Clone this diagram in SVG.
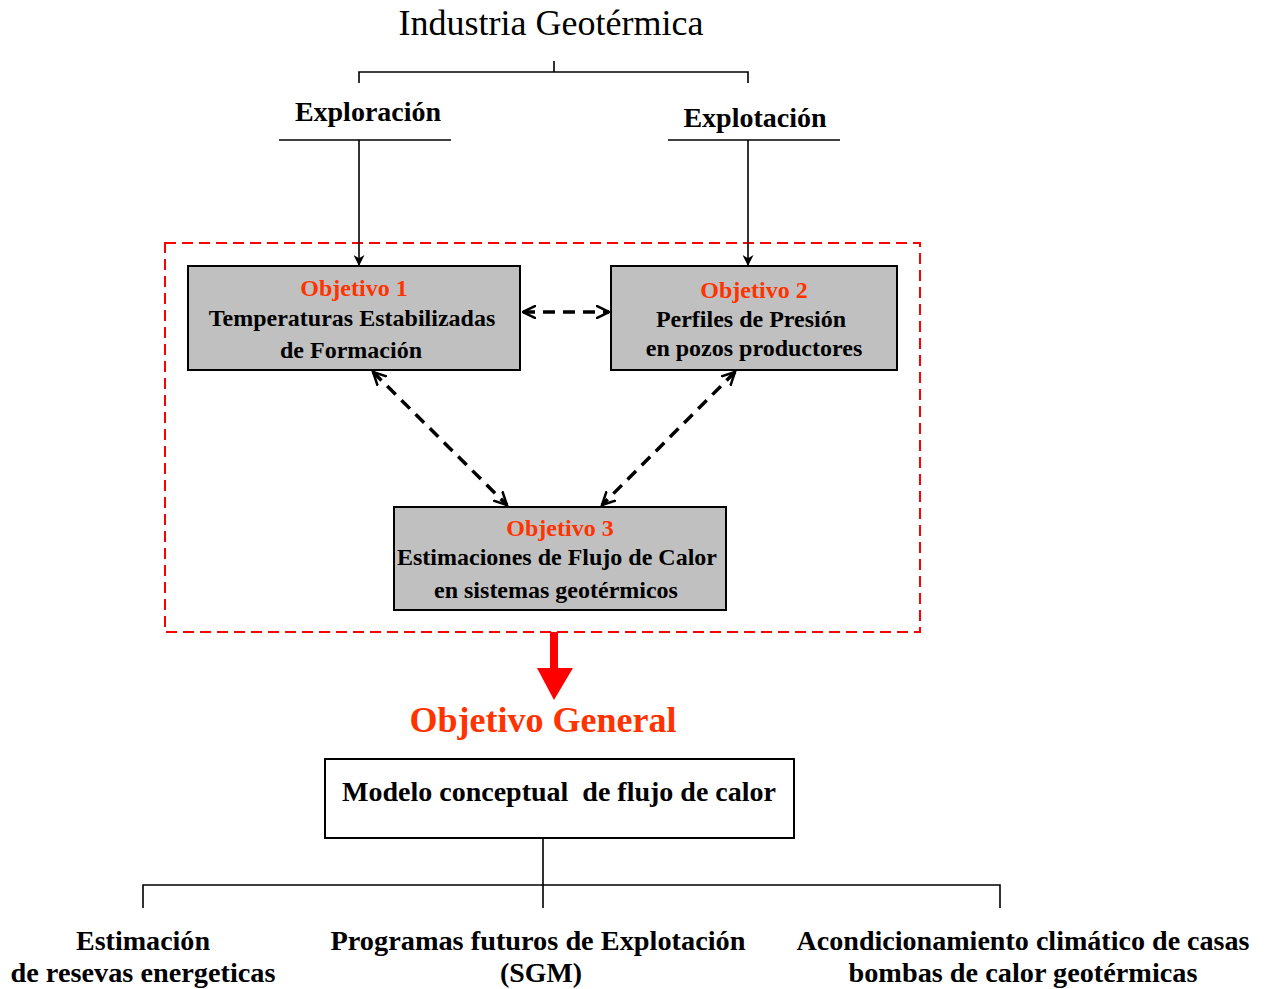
<svg xmlns="http://www.w3.org/2000/svg" width="1267" height="989" viewBox="0 0 1267 989">
  <style>
    text { font-family: "Liberation Serif", "Times New Roman", serif; text-anchor: middle; }
    .title { font-size: 36px; fill: #000; }
    .head { font-size: 28px; font-weight: bold; fill: #000; }
    .obj { font-size: 24px; font-weight: bold; fill: #ff3300; }
    .body { font-size: 24px; font-weight: bold; fill: #000; }
    .gen { font-size: 36px; font-weight: bold; fill: #ff3300; }
    .model { font-size: 28px; font-weight: bold; fill: #000; }
    .leaf { font-size: 27px; font-weight: bold; fill: #000; }
    .box { fill: #c0c0c0; stroke: #000; stroke-width: 2; }
    .plain { fill: #fff; stroke: #000; stroke-width: 2; }
    .line { fill: none; stroke: #000; stroke-width: 1.6; }
    .dash { fill: none; stroke: #000; stroke-width: 3.5; stroke-dasharray: 12 8; }
    .frame { fill: none; stroke: #ff0000; stroke-width: 2; stroke-dasharray: 11 6; }
  </style>
  <defs>
    <marker id="tip" viewBox="0 0 10 10" refX="10" refY="5" markerWidth="11" markerHeight="11" markerUnits="userSpaceOnUse" orient="auto">
      <path d="M0,0 L10,5 L0,10 L3,5 z" fill="#000"/>
    </marker>
    <marker id="tipBold" viewBox="0 0 10 10" refX="9" refY="5" markerWidth="4.2" markerHeight="4.2" orient="auto-start-reverse">
      <path d="M0,0.5 L9,5 L0,9.5" fill="none" stroke="#000" stroke-width="1.7"/>
    </marker>
  </defs>

  <!-- header -->
  <g id="industria">
    <text class="title" x="551" y="35">Industria Geotérmica</text>
  </g>
  <g id="exploracion">
    <text class="head" x="368" y="121">Exploración</text>
    <line class="line" x1="279" y1="140" x2="451" y2="140"/>
  </g>
  <g id="explotacion">
    <text class="head" x="755" y="127">Explotación</text>
    <line class="line" x1="668" y1="140" x2="840" y2="140"/>
  </g>

  <!-- objectives frame -->
  <rect id="frame" class="frame" x="165" y="243" width="755" height="389"/>

  <g id="objetivo1">
    <rect class="box" x="188" y="266" width="332" height="104"/>
    <text class="obj" x="354" y="296">Objetivo 1</text>
    <text class="body" x="352" y="326">Temperaturas Estabilizadas</text>
    <text class="body" x="351" y="358">de Formación</text>
  </g>
  <g id="objetivo2">
    <rect class="box" x="611" y="266" width="286" height="104"/>
    <text class="obj" x="754" y="298">Objetivo 2</text>
    <text class="body" x="751" y="327">Perfiles de Presión</text>
    <text class="body" x="754" y="356">en pozos productores</text>
  </g>
  <g id="objetivo3">
    <rect class="box" x="394" y="507" width="332" height="103"/>
    <text class="obj" x="560" y="536">Objetivo 3</text>
    <text class="body" x="557" y="565">Estimaciones de Flujo de Calor</text>
    <text class="body" x="556" y="598">en sistemas geotérmicos</text>
  </g>

  <g id="general">
    <text class="gen" x="543" y="732">Objetivo General</text>
  </g>
  <g id="modelo">
    <rect class="plain" x="325" y="759" width="469" height="79"/>
    <text class="model" x="559" y="801" xml:space="preserve">Modelo conceptual  de flujo de calor</text>
  </g>

  <g id="estimacion">
    <text class="leaf" x="143" y="950" textLength="134" lengthAdjust="spacingAndGlyphs">Estimación</text>
    <text class="leaf" x="143" y="982" textLength="265" lengthAdjust="spacingAndGlyphs">de resevas energeticas</text>
  </g>
  <g id="programas">
    <text class="leaf" x="538" y="950" textLength="415" lengthAdjust="spacingAndGlyphs">Programas futuros de Explotación</text>
    <text class="leaf" x="541" y="982" textLength="82" lengthAdjust="spacingAndGlyphs">(SGM)</text>
  </g>
  <g id="acondicionamiento">
    <text class="leaf" x="1023" y="950" textLength="453" lengthAdjust="spacingAndGlyphs">Acondicionamiento climático de casas</text>
    <text class="leaf" x="1023" y="982" textLength="349" lengthAdjust="spacingAndGlyphs">bombas de calor geotérmicas</text>
  </g>

  <!-- connectors -->
  <g id="connectors">
    <path class="line" d="M554,61 V72 M359,83 V72 H748 V83"/>
    <line class="line" x1="359" y1="140" x2="359" y2="266" marker-end="url(#tip)"/>
    <line class="line" x1="748" y1="140" x2="748" y2="266" marker-end="url(#tip)"/>

    <line class="dash" x1="523" y1="312" x2="609" y2="312" marker-start="url(#tipBold)" marker-end="url(#tipBold)"/>
    <line class="dash" x1="373" y1="372" x2="507" y2="505" marker-start="url(#tipBold)" marker-end="url(#tipBold)"/>
    <line class="dash" x1="735" y1="372" x2="602" y2="505" marker-start="url(#tipBold)" marker-end="url(#tipBold)"/>

    <path d="M550,632 H558 V668 H573 L554,700 L537,668 H550 z" fill="#ff0000"/>

    <path class="line" d="M543,838 V908 M143,908 V885 H1000 V908"/>
  </g>
</svg>
